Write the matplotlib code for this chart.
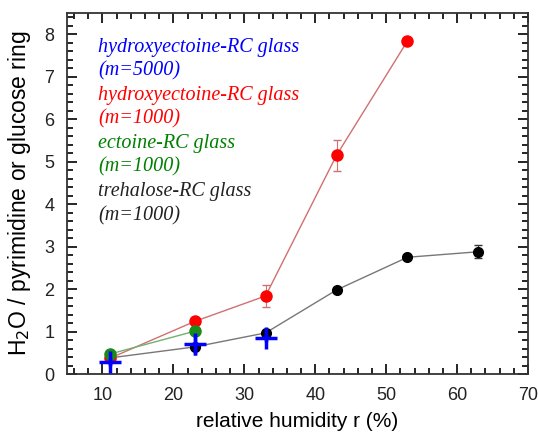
import numpy as np
import matplotlib.pyplot as plt
from matplotlib.ticker import MultipleLocator

# relative humidity (%)
rh_red = [11, 23, 33, 43, 53]
h2o_red = [0.37, 1.24, 1.84, 5.15, 7.84]
err_red = [0.0, 0.08, 0.25, 0.37, 0.0]

rh_green = [11, 23]
h2o_green = [0.47, 1.01]

rh_black = [11, 23, 33, 43, 53, 63]
h2o_black = [0.38, 0.64, 0.97, 1.98, 2.75, 2.88]
err_black = [0.0, 0.0, 0.05, 0.05, 0.05, 0.15]

rh_blue = [11, 23, 33]
h2o_blue = [0.28, 0.70, 0.85]
err_blue = [0.1, 0.25, 0.1]

labels = [("hydroxyectoine-RC glass", "blue"), ("(m=5000)", "blue"),
          ("hydroxyectoine-RC glass", "red"), ("(m=1000)", "red"),
          ("ectoine-RC glass", "green"), ("(m=1000)", "green"),
          ("trehalose-RC glass", "#222222"), ("(m=1000)", "#222222")]

plt.rcParams['font.family'] = ['Liberation Sans', 'DejaVu Sans']

fig = plt.figure(figsize=(5.38, 4.32), dpi=100)
ax = fig.add_axes([0.1245, 0.134, 0.857, 0.836])

ax.errorbar(rh_black, h2o_black, yerr=err_black, color='#777777', lw=1,
            marker='o', ms=7, mfc='black', mec='black', ecolor='#333333',
            capsize=3, elinewidth=0.8, zorder=2)
ax.errorbar(rh_red, h2o_red, yerr=err_red, color='#d07070', lw=1,
            marker='o', ms=8, mfc='red', mec='red', ecolor='#d07070',
            capsize=3, elinewidth=0.8, zorder=3)
ax.plot(rh_green, h2o_green, color='#70b070', lw=1, marker='o', ms=8,
        mfc='#1a8a1a', mec='#1a8a1a', zorder=4)
ax.errorbar(rh_blue, h2o_blue, yerr=err_blue, fmt='none', ecolor='blue',
            elinewidth=2.5, capsize=0, zorder=5)
ax.plot(rh_blue, h2o_blue, ls='none', marker='+', ms=16, mew=2.5,
        color='blue', zorder=5)

ax.set_xlim(5, 70)
ax.set_ylim(0, 8.5)
ax.xaxis.set_major_locator(MultipleLocator(10))
ax.xaxis.set_minor_locator(MultipleLocator(2))
ax.yaxis.set_major_locator(MultipleLocator(1))
ax.yaxis.set_minor_locator(MultipleLocator(0.2))
ax.tick_params(which='both', direction='in', top=True, right=True,
               labelsize=13, width=1.2, labelcolor='#222222')
ax.tick_params(which='major', length=7, pad=9)
ax.tick_params(which='minor', length=4)
ax.set_xticks([10, 20, 30, 40, 50, 60, 70])
for s in ax.spines.values():
    s.set_linewidth(1.3)
    s.set_color('#333333')

ax.set_xlabel('relative humidity r (%)', fontsize=15, labelpad=6)
ax.set_ylabel('H$_2$O / pyrimidine or glucose ring', fontsize=16.5,
              labelpad=8)

for i, (txt, col) in enumerate(labels):
    ax.text(0.067, 0.905 - i * 0.0665, txt, transform=ax.transAxes,
            color=col, fontsize=14.5, style='italic',
            family='Liberation Serif', va='center')

fig.savefig('out.png', dpi=100)
